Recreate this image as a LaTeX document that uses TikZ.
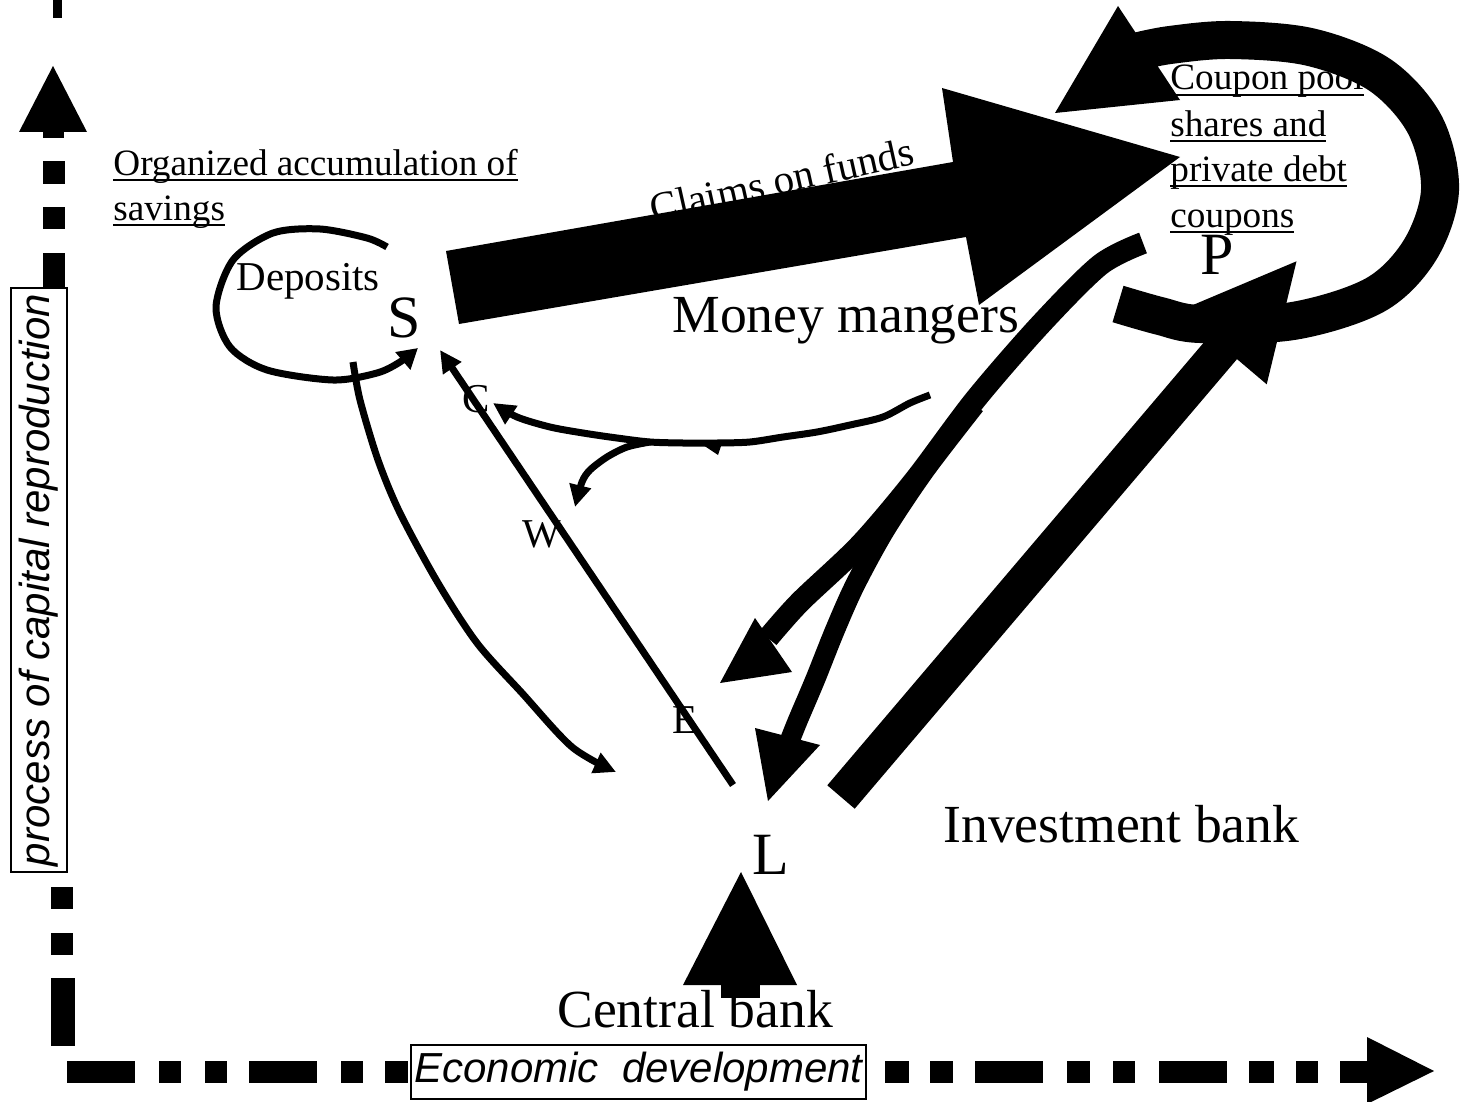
\documentclass[tikz,border=0pt]{standalone}
\usepackage{fontspec}
\setmainfont{Liberation Serif}
\setsansfont{Liberation Sans}
\usetikzlibrary{arrows.meta}
\newcommand\myul[1]{\setbox0\hbox{#1}\rlap{\rule[-3pt]{\wd0}{1pt}}\box0}
\begin{document}
\begin{tikzpicture}[x=0.5pt,y=-0.5pt,
  every node/.style={inner sep=0pt},
  txts/.style={font=\fontsize{18.6}{22}\selectfont, anchor=base west},
  txtm/.style={font=\fontsize{20.5}{24}\selectfont, anchor=base west},
  txtl/.style={font=\fontsize{26.8}{30}\selectfont, anchor=base west},
  txth/.style={font=\fontsize{30}{34}\selectfont},
  sansbox/.style={draw, line width=1pt, fill=white, font=\sffamily\itshape\fontsize{21}{25}\selectfont},
  slim/.style={line width=3.5pt, line join=round},
  slimtip/.style={-{Triangle[length=11pt,width=10.5pt]}},
  fat/.style={line width=11pt, line join=round},
]
\useasboundingbox (0,0) rectangle (1461,1102);

% ---------- texts ----------
\node[txts] (org1) at (113,175) {\myul{Organized accumulation of}};
\node[txts] (org2) at (113,220) {\myul{savings}};
\node[txts] (cp1) at (1170,90) {\myul{Coupon pool}};
\node[txts] (cp2) at (1170,136) {\myul{shares and}};
\node[txts] (cp3) at (1170,181) {\myul{private debt}};
\node[txts] (cp4) at (1170,227) {\myul{coupons}};
\node[txtm] (dep) at (236,290) {Deposits};
\node[txth] (S) at (404,318) {S};
\node[txth] (P) at (1217,255) {P};
\node[txth] (L) at (771,855) {L};
\node[txtl] (mm) at (672,332) {Money mangers};
\node[txtl] (ib) at (943,842) {Investment bank};
\node[txtl] (cb) at (557,1027) {Central bank};
\node[txtm, rotate=12.6] (cf) at (653,223) {Claims on funds};
\node[txtm] (C) at (462,412) {C};
\node[txtm] (W) at (522,547) {W};
\node[txtm] (E) at (672,733) {E};

% ---------- vertical axis ----------
\fill (53,0) rectangle (62,18);
\fill (53,66) -- (87,132) -- (19,132) -- cycle;
\fill (43,131) rectangle (64,138);
\fill (43,161) rectangle (65,184);
\fill (43,207) rectangle (65,229);
\fill (43,253) rectangle (65,321);
\fill (51,887) rectangle (73,909);
\fill (51,933) rectangle (73,955);
\fill (51,978) rectangle (75,1046);
\node[sansbox, rotate=90, minimum width=292pt, minimum height=28pt] (vax) at (39,580) {process of capital reproduction};

% ---------- horizontal axis ----------
\foreach \a/\b in {67/135,159/181,205/227,249/317,341/363,385/408,885/909,930/953,975/1043,1067/1090,1113/1135,1159/1227,1249/1274,1296/1318,1340/1368}
  \fill (\a,1061) rectangle (\b,1083);
\fill (1367,1037) -- (1434,1071) -- (1367,1104) -- cycle;
\node[sansbox, minimum width=227.5pt, minimum height=27pt, anchor=north west] (hax) at (410,1044) {Economic\ \ development};

% ---------- thin connectors ----------
\coordinate (sdep) at (387,247);
\coordinate (edep) at (418,348);
\draw[slim, -{Triangle[length=10pt,width=11pt]}] plot[smooth] coordinates {(sdep) (367,238) (320,229) (273,233) (233,260) (216,307) (230,347) (267,370) (333,380) (377,373) (400,362) (edep)};

\coordinate (lfoot) at (733,785);
\coordinate (shead) at (440,350);
\draw[slim, slimtip] (lfoot) -- (shead);

\coordinate (sfoot) at (353,362);
\coordinate (lhead) at (616,772);
\draw[slim, slimtip] plot[smooth] coordinates {(sfoot) (360,400) (378,460) (400,513) (438,583) (477,643) (522,693) (572,747) (lhead)};

\coordinate (mmfoot) at (930,395);
\coordinate (chead) at (493,403);
\draw[slim, slimtip] plot[smooth] coordinates {(mmfoot) (910,403) (883,417) (850,425) (817,432) (783,437) (750,442) (717,443) (683,443) (650,442) (617,438) (583,433) (550,427) (517,417) (chead)};
\coordinate (fork) at (650,442);
\coordinate (whead) at (575,507);
\draw[slim, slimtip] plot[smooth] coordinates {(fork) (627,447) (607,457) (590,470) (582,482) (whead)};
\fill (697,441) -- (721,446) -- (718,455) -- cycle;

% ---------- thick curves P -> L ----------
\coordinate (pfoot) at (1143,243);
\draw[fat] plot[smooth] coordinates {(pfoot) (1100,265) (1040,325) (975,400) (915,480) (860,545) (800,602) (768,638)};
\fill (720,683) -- (755,618) -- (792,672) -- cycle;
\draw[line width=10pt, line join=round] plot[smooth] coordinates {(975,405) (925,470) (885,530) (855,585) (835,630) (815,680) (798,720) (790,740)};
\fill (768,801) -- (755,728) -- (820,745) -- cycle;

% ---------- block arrows ----------
% Claims on funds: S -> P
\fill (446,251) -- (953,162) -- (942,88) -- (1180,157) -- (979,305) -- (966,237) -- (459,324) -- cycle;
% Investment bank: L -> P
\fill (827.3,785.3) -- (1209.6,335.7) -- (1179.9,310.5) -- (1296.5,261.3) -- (1266.7,384.3) -- (1237.0,359.1) -- (854.7,808.7) -- cycle;
% Central bank -> L
\fill (721,985) rectangle (760,998);
\fill (741,872) -- (797,985) -- (683,985) -- cycle;
% loop at P
\draw[line width=19pt] plot[smooth, tension=0.55] coordinates {(1118,304) (1160,316) (1200,324) (1293,321) (1375,295) (1420,250) (1440,190) (1425,125) (1380,75) (1310,47) (1230,40) (1170,45) (1135,52)};
\fill (1055,113) -- (1118,6) -- (1180,100) -- cycle;
\end{tikzpicture}
\end{document}
